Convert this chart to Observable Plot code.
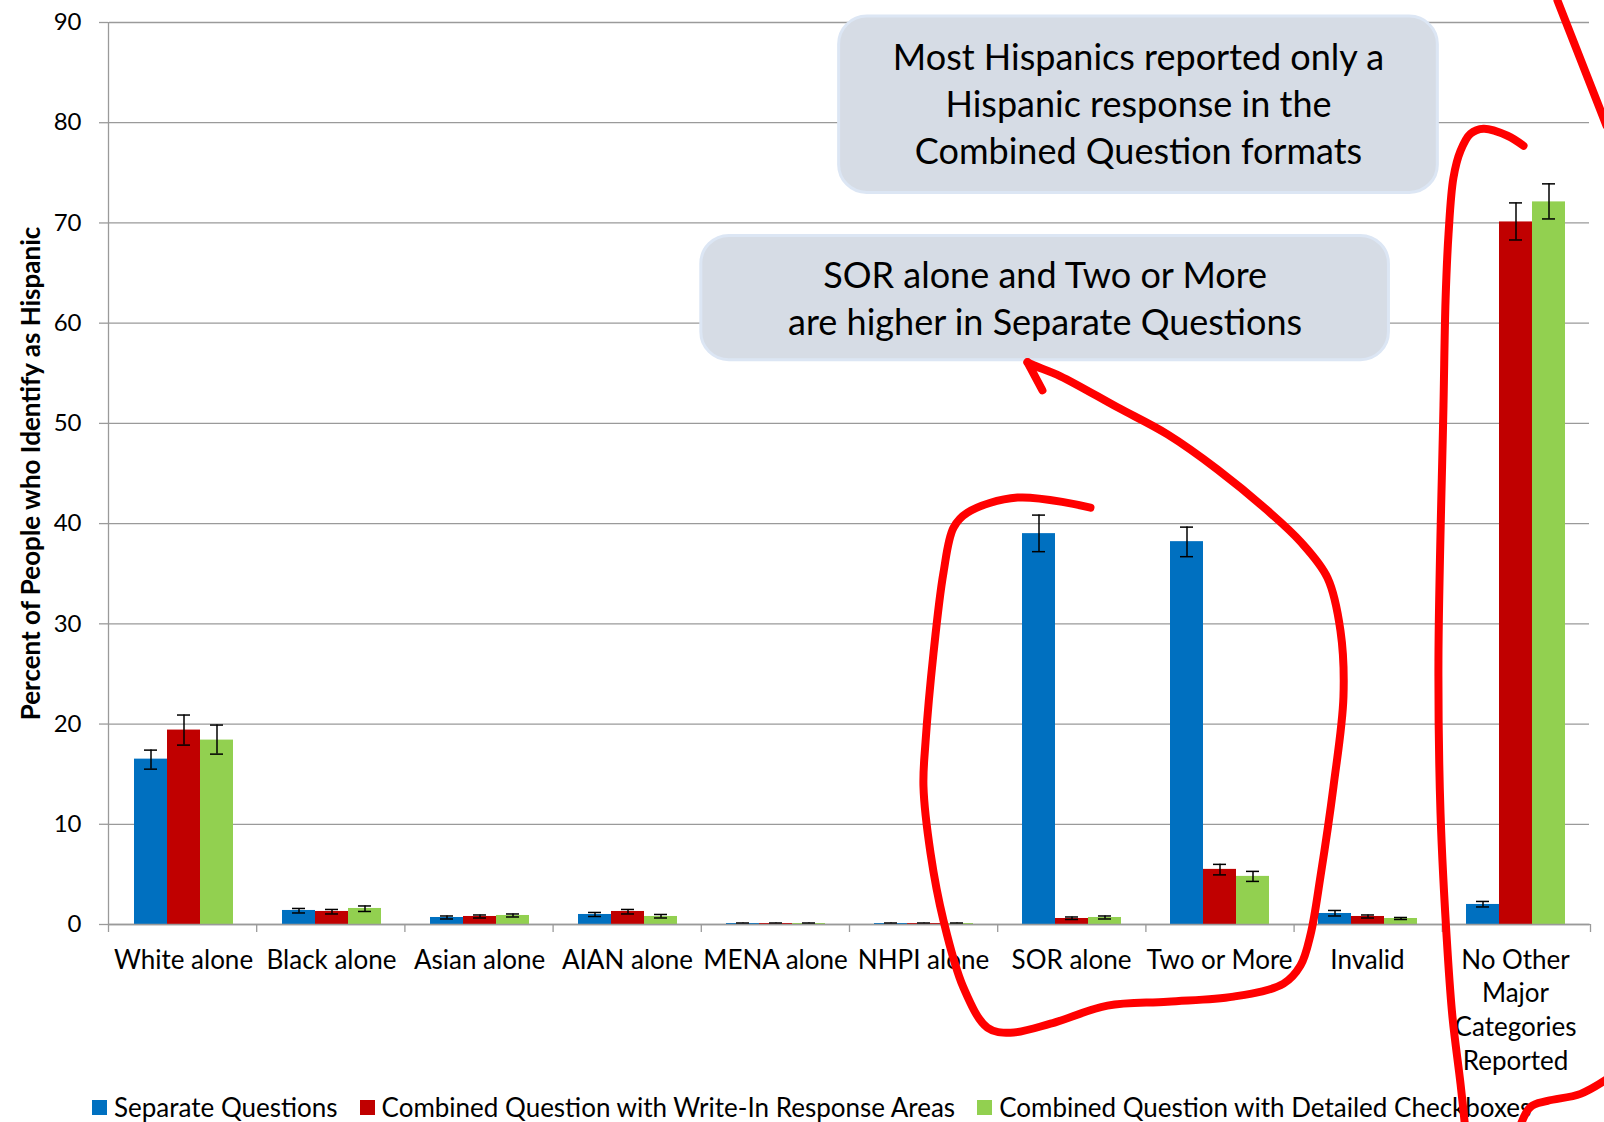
<!DOCTYPE html>
<html><head><meta charset="utf-8">
<script src="https://cdn.jsdelivr.net/npm/d3@7"></script>
<script src="https://cdn.jsdelivr.net/npm/@observablehq/plot@0.6"></script>
<style>
body{margin:0;background:#fff;font-family:Lato, sans-serif;}
#wrap{position:relative;width:1604px;height:1122px;overflow:hidden;background:#fff;}
#main,#over{position:absolute;left:0;top:0;}
#legend{position:absolute;left:92px;top:1094px;display:flex;gap:22px;font-size:26px;line-height:27px;color:#000;white-space:nowrap;}
.item{display:flex;align-items:center;gap:7px;}
.sw{width:15px;height:15px;display:inline-block;}
</style></head><body>
<div id="wrap"><div id="main"></div><div id="legend"></div><div id="over"></div></div>
<script>
// ---- data ----
const categories = ["White alone","Black alone","Asian alone","AIAN alone","MENA alone","NHPI alone","SOR alone","Two or More","Invalid","No Other Major Categories Reported"];
const categoryLabels = ["White alone","Black alone","Asian alone","AIAN alone","MENA alone","NHPI alone","SOR alone","Two or More","Invalid","No Other\nMajor\nCategories\nReported"];
const series = ["Separate Questions","Combined Question with Write-In Response Areas","Combined Question with Detailed Checkboxes"];
const colors = ["#0070C0","#C00000","#92D050"];
const yTicks = [0,10,20,30,40,50,60,70,80,90];

const separateQuestions = [16.5, 1.4, 0.7, 1.0, 0.1, 0.1, 39.0, 38.2, 1.1, 2.0];
const separateLow       = [15.5, 1.15, 0.55, 0.8, 0.05, 0.05, 37.2, 36.7, 0.85, 1.75];
const separateHigh      = [17.4, 1.6, 0.85, 1.2, 0.15, 0.15, 40.85, 39.65, 1.4, 2.3];

const writeIn     = [19.4, 1.3, 0.8, 1.3, 0.1, 0.1, 0.6, 5.5, 0.8, 70.1];
const writeInLow  = [17.9, 1.05, 0.65, 1.05, 0.05, 0.05, 0.5, 4.95, 0.65, 68.3];
const writeInHigh = [20.9, 1.5, 0.95, 1.5, 0.15, 0.15, 0.75, 6.0, 0.95, 72.0];

const checkboxes     = [18.4, 1.6, 0.9, 0.8, 0.1, 0.1, 0.7, 4.8, 0.6, 72.1];
const checkboxesLow  = [17.0, 1.3, 0.75, 0.65, 0.05, 0.05, 0.55, 4.3, 0.5, 70.4];
const checkboxesHigh = [19.9, 1.85, 1.05, 1.0, 0.15, 0.15, 0.85, 5.3, 0.7, 73.9];

const yLabel = "Percent of People who Identify as Hispanic";

// annotation callouts (x in category units, y in percent)
const calloutText = ["Most Hispanics reported only a\nHispanic response in the\nCombined Question formats",
                     "SOR alone and Two or More\nare higher in Separate Questions"];
const calloutX1 = [4.93, 4.00], calloutX2 = [8.97, 8.64];
const calloutY1 = [73.0, 56.3], calloutY2 = [90.6, 68.7];
const calloutCX = [6.95, 6.32], calloutCY = [82.1, 62.7];

// hand-drawn red strokes (x in category units, y in percent)
const loopSOR = [[6.626,41.6],[6.134,42.6],[5.796,41.1],[5.702,39.6],[5.634,35.1],[5.567,27.1],[5.513,18.2],[5.499,13.8],[5.547,7.1],[5.634,0.4],[5.769,-6.3],[5.931,-10.3],[6.086,-10.8],[6.356,-9.9],[6.741,-8.1],[7.146,-7.7],[7.591,-7.2],[7.929,-5.9],[8.043,-4.1],[8.111,-1.0],[8.178,4.8],[8.266,13.8],[8.333,22.7],[8.313,29.3],[8.225,34.6],[8.043,38.2],[7.821,41.3],[7.483,45.4],[7.146,48.9],[6.808,51.6],[6.424,54.7],[6.242,55.8],[6.201,56.1]];
const hookSOR = [[6.201,56.1],[6.302,53.3]];
const loopOther = [[9.548,77.7],[9.440,78.7],[9.278,79.4],[9.190,78.9],[9.123,77.2],[9.075,74.5],[9.042,68.9],[9.022,62.3],[9.008,51.8],[8.974,26.3],[8.988,11.1],[9.035,-2.6],[9.069,-9.3],[9.123,-15.9],[9.157,-20.6]];
const strokeBottomRight = [[10.135,-15.2],[9.933,-16.9],[9.710,-17.6],[9.595,-18.2],[9.514,-20.6]];
const strokeTopRight = [[9.777,92.2],[10.108,79.7]];

// ---- build tables ----
const vals = [separateQuestions, writeIn, checkboxes];
const lows = [separateLow, writeInLow, checkboxesLow];
const highs = [separateHigh, writeInHigh, checkboxesHigh];
const rows = series.flatMap((s, si) => categories.map((c, ci) => ({category: c, series: s, value: vals[si][ci], lo: lows[si][ci], hi: highs[si][ci]})));
const labelOf = new Map(categories.map((c, i) => [c, categoryLabels[i]]));
const callouts = calloutText.map((t, i) => ({text: t, x1: calloutX1[i], x2: calloutX2[i], y1: calloutY1[i], y2: calloutY2[i], cx: calloutCX[i], cy: calloutCY[i]}));
const strokes = [["a", loopSOR], ["b", hookSOR], ["c", loopOther], ["d", strokeBottomRight], ["e", strokeTopRight]]
  .flatMap(([id, pts]) => pts.map(([u, v]) => ({id, u, v})));

const W = 1604, H = 1085, ML = 108, MR = 14, MT = 22, MB = 161;

const main = Plot.plot({
  width: W, height: H, marginLeft: ML, marginRight: MR, marginTop: MT, marginBottom: MB,
  style: {fontFamily: "Lato, sans-serif", background: "white"},
  fx: {domain: categories, padding: 0, axis: null, label: null},
  x: {domain: series, paddingInner: 0, paddingOuter: 0.735, axis: null},
  y: {domain: [0, 90], axis: null},
  color: {domain: series, range: colors},
  marks: [
    Plot.gridY(yTicks, {stroke: "#9a9a9a", strokeOpacity: 1, strokeWidth: 1.3}),
    Plot.barY(rows, {fx: "category", x: "series", y: "value", fill: "series"}),
    Plot.ruleX(rows, {fx: "category", x: "series", y1: "lo", y2: "hi", stroke: "black", strokeWidth: 1.5}),
    Plot.tickY(rows, {fx: "category", x: "series", y: "lo", stroke: "black", strokeWidth: 1.5, insetLeft: 10, insetRight: 10}),
    Plot.tickY(rows, {fx: "category", x: "series", y: "hi", stroke: "black", strokeWidth: 1.5, insetLeft: 10, insetRight: 10}),
    Plot.axisFx({anchor: "bottom", tickSize: 0, tickPadding: 20, fontSize: 26, lineHeight: 1.3, fill: "black", label: null, tickFormat: d => labelOf.get(d)})
  ]
});
document.getElementById("main").appendChild(main);

const over = Plot.plot({
  width: W, height: H, marginLeft: ML, marginRight: MR, marginTop: MT, marginBottom: MB,
  style: {fontFamily: "Lato, sans-serif", background: "transparent", overflow: "visible"},
  x: {domain: [0, 10], axis: null},
  y: {domain: [0, 90], axis: null},
  marks: [
    Plot.ruleX([0], {y1: 0, y2: 90, stroke: "#9a9a9a", strokeWidth: 1.3}),
    Plot.ruleY([0], {x1: 0, x2: 10, stroke: "#9a9a9a", strokeWidth: 1.3}),
    Plot.axisX({ticks: d3.range(0, 11), tickSize: 8, tickFormat: () => "", stroke: "#9a9a9a", strokeWidth: 1.3, label: null}),
    Plot.axisY({ticks: yTicks, tickSize: 9, tickFormat: () => "", stroke: "#9a9a9a", strokeWidth: 1.3, label: null}),
    Plot.axisY({ticks: yTicks, tickSize: 0, tickPadding: 27, fontSize: 24, fill: "black", label: null}),
    Plot.text([yLabel], {frameAnchor: "left", textAnchor: "middle", rotate: -90, dx: -77, fontSize: 26, fontWeight: "bold", fill: "black"}),
    Plot.rect(callouts, {x1: "x1", x2: "x2", y1: "y1", y2: "y2", rx: 28, fill: "#D6DCE5", stroke: "#DCE6F4", strokeWidth: 3}),
    Plot.text(callouts, {x: "cx", y: "cy", text: "text", fontSize: 36, lineHeight: 1.31, fill: "black"}),
    Plot.line(strokes, {x: "u", y: "v", z: "id", stroke: "#FF0000", strokeWidth: 8, curve: "catmull-rom", strokeLinecap: "round", strokeLinejoin: "round"})
  ]
});
document.getElementById("over").appendChild(over);

const legend = document.getElementById("legend");
series.forEach((s, i) => {
  const item = document.createElement("div"); item.className = "item";
  const sw = document.createElement("span"); sw.className = "sw"; sw.style.background = colors[i];
  const t = document.createElement("span"); t.textContent = s;
  item.appendChild(sw); item.appendChild(t); legend.appendChild(item);
});
</script>
</body></html>
